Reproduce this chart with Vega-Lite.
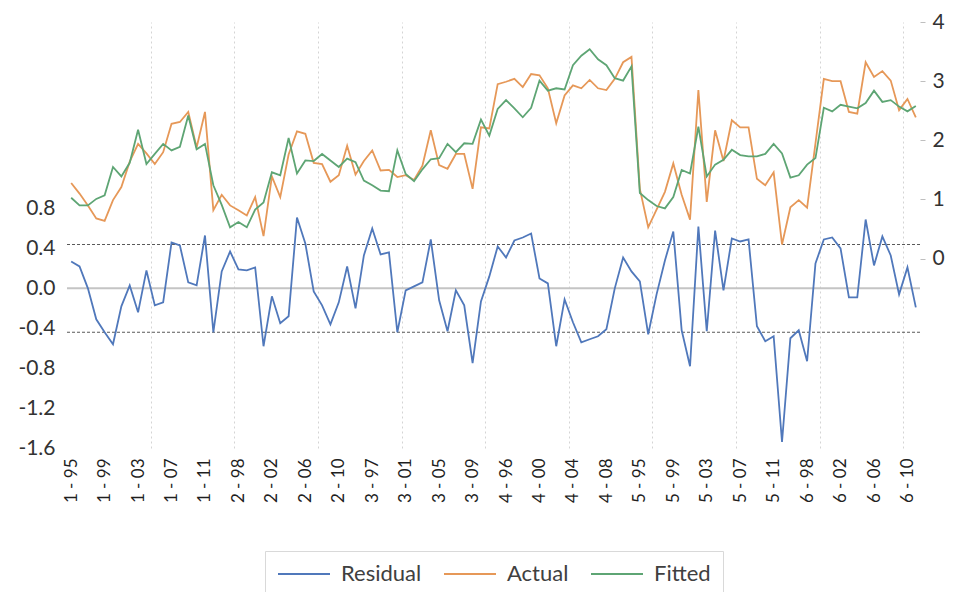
{
  "$schema": "https://vega.github.io/schema/vega-lite/v6.json",
  "width": 853,
  "height": 426,
  "autosize": {"type": "none"},
  "padding": {"left": 67, "top": 22, "right": 38, "bottom": 144},
  "background": "white",
  "config": {
    "font": "Lato",
    "view": {"stroke": null},
    "axis": {"labelFont": "Lato", "labelFlush": false, "labelOverlap": false, "title": null},
    "legend": {
      "orient": "none",
      "legendX": 198,
      "legendY": 529,
      "direction": "horizontal",
      "symbolType": "M-2,0H8.4",
      "symbolSize": 100,
      "symbolStrokeWidth": 2,
      "labelFont": "Lato",
      "labelFontSize": 22,
      "labelColor": "#404040",
      "labelOffset": 42,
      "columnPadding": 18,
      "padding": 12,
      "strokeColor": "#d9d9d9"
    }
  },
  "datasets": {
    "fit": [
      {"i": 0, "obs": "1 - 95", "Residual": 0.27, "Actual": 1.28, "Fitted": 1.03},
      {"i": 1, "obs": "1 - 96", "Residual": 0.22, "Actual": 1.10, "Fitted": 0.90},
      {"i": 2, "obs": "1 - 97", "Residual": 0.00, "Actual": 0.90, "Fitted": 0.90},
      {"i": 3, "obs": "1 - 98", "Residual": -0.31, "Actual": 0.68, "Fitted": 1.01},
      {"i": 4, "obs": "1 - 99", "Residual": -0.44, "Actual": 0.64, "Fitted": 1.07},
      {"i": 5, "obs": "1 - 00", "Residual": -0.56, "Actual": 0.99, "Fitted": 1.55},
      {"i": 6, "obs": "1 - 01", "Residual": -0.18, "Actual": 1.21, "Fitted": 1.39},
      {"i": 7, "obs": "1 - 02", "Residual": 0.03, "Actual": 1.64, "Fitted": 1.62},
      {"i": 8, "obs": "1 - 03", "Residual": -0.24, "Actual": 1.94, "Fitted": 2.18},
      {"i": 9, "obs": "1 - 04", "Residual": 0.18, "Actual": 1.78, "Fitted": 1.60},
      {"i": 10, "obs": "1 - 05", "Residual": -0.17, "Actual": 1.60, "Fitted": 1.77},
      {"i": 11, "obs": "1 - 06", "Residual": -0.14, "Actual": 1.80, "Fitted": 1.94},
      {"i": 12, "obs": "1 - 07", "Residual": 0.46, "Actual": 2.28, "Fitted": 1.83},
      {"i": 13, "obs": "1 - 08", "Residual": 0.43, "Actual": 2.31, "Fitted": 1.89},
      {"i": 14, "obs": "1 - 09", "Residual": 0.06, "Actual": 2.48, "Fitted": 2.42},
      {"i": 15, "obs": "1 - 10", "Residual": 0.03, "Actual": 1.88, "Fitted": 1.85},
      {"i": 16, "obs": "1 - 11", "Residual": 0.53, "Actual": 2.48, "Fitted": 1.94},
      {"i": 17, "obs": "2 - 95", "Residual": -0.44, "Actual": 0.82, "Fitted": 1.24},
      {"i": 18, "obs": "2 - 96", "Residual": 0.17, "Actual": 1.08, "Fitted": 0.91},
      {"i": 19, "obs": "2 - 97", "Residual": 0.37, "Actual": 0.90, "Fitted": 0.53},
      {"i": 20, "obs": "2 - 98", "Residual": 0.19, "Actual": 0.82, "Fitted": 0.62},
      {"i": 21, "obs": "2 - 99", "Residual": 0.18, "Actual": 0.73, "Fitted": 0.53},
      {"i": 22, "obs": "2 - 00", "Residual": 0.21, "Actual": 1.04, "Fitted": 0.83},
      {"i": 23, "obs": "2 - 01", "Residual": -0.58, "Actual": 0.38, "Fitted": 0.95},
      {"i": 24, "obs": "2 - 02", "Residual": -0.08, "Actual": 1.39, "Fitted": 1.46},
      {"i": 25, "obs": "2 - 03", "Residual": -0.35, "Actual": 1.04, "Fitted": 1.41},
      {"i": 26, "obs": "2 - 04", "Residual": -0.28, "Actual": 1.76, "Fitted": 2.04},
      {"i": 27, "obs": "2 - 05", "Residual": 0.71, "Actual": 2.15, "Fitted": 1.44},
      {"i": 28, "obs": "2 - 06", "Residual": 0.45, "Actual": 2.11, "Fitted": 1.66},
      {"i": 29, "obs": "2 - 07", "Residual": -0.03, "Actual": 1.62, "Fitted": 1.65},
      {"i": 30, "obs": "2 - 08", "Residual": -0.17, "Actual": 1.60, "Fitted": 1.77},
      {"i": 31, "obs": "2 - 09", "Residual": -0.36, "Actual": 1.30, "Fitted": 1.66},
      {"i": 32, "obs": "2 - 10", "Residual": -0.14, "Actual": 1.41, "Fitted": 1.55},
      {"i": 33, "obs": "2 - 11", "Residual": 0.22, "Actual": 1.91, "Fitted": 1.69},
      {"i": 34, "obs": "3 - 95", "Residual": -0.20, "Actual": 1.42, "Fitted": 1.63},
      {"i": 35, "obs": "3 - 96", "Residual": 0.33, "Actual": 1.65, "Fitted": 1.32},
      {"i": 36, "obs": "3 - 97", "Residual": 0.60, "Actual": 1.83, "Fitted": 1.24},
      {"i": 37, "obs": "3 - 98", "Residual": 0.34, "Actual": 1.49, "Fitted": 1.15},
      {"i": 38, "obs": "3 - 99", "Residual": 0.36, "Actual": 1.50, "Fitted": 1.14},
      {"i": 39, "obs": "3 - 00", "Residual": -0.44, "Actual": 1.38, "Fitted": 1.83},
      {"i": 40, "obs": "3 - 01", "Residual": -0.02, "Actual": 1.41, "Fitted": 1.43},
      {"i": 41, "obs": "3 - 02", "Residual": 0.02, "Actual": 1.33, "Fitted": 1.31},
      {"i": 42, "obs": "3 - 03", "Residual": 0.06, "Actual": 1.57, "Fitted": 1.51},
      {"i": 43, "obs": "3 - 04", "Residual": 0.49, "Actual": 2.17, "Fitted": 1.68},
      {"i": 44, "obs": "3 - 05", "Residual": -0.12, "Actual": 1.58, "Fitted": 1.70},
      {"i": 45, "obs": "3 - 06", "Residual": -0.43, "Actual": 1.52, "Fitted": 1.94},
      {"i": 46, "obs": "3 - 07", "Residual": -0.02, "Actual": 1.77, "Fitted": 1.80},
      {"i": 47, "obs": "3 - 08", "Residual": -0.17, "Actual": 1.77, "Fitted": 1.95},
      {"i": 48, "obs": "3 - 09", "Residual": -0.75, "Actual": 1.18, "Fitted": 1.94},
      {"i": 49, "obs": "3 - 10", "Residual": -0.13, "Actual": 2.22, "Fitted": 2.35},
      {"i": 50, "obs": "3 - 11", "Residual": 0.12, "Actual": 2.20, "Fitted": 2.08},
      {"i": 51, "obs": "4 - 95", "Residual": 0.42, "Actual": 2.95, "Fitted": 2.53},
      {"i": 52, "obs": "4 - 96", "Residual": 0.31, "Actual": 2.99, "Fitted": 2.68},
      {"i": 53, "obs": "4 - 97", "Residual": 0.48, "Actual": 3.04, "Fitted": 2.54},
      {"i": 54, "obs": "4 - 98", "Residual": 0.51, "Actual": 2.90, "Fitted": 2.39},
      {"i": 55, "obs": "4 - 99", "Residual": 0.55, "Actual": 3.12, "Fitted": 2.55},
      {"i": 56, "obs": "4 - 00", "Residual": 0.10, "Actual": 3.10, "Fitted": 3.01},
      {"i": 57, "obs": "4 - 01", "Residual": 0.05, "Actual": 2.88, "Fitted": 2.84},
      {"i": 58, "obs": "4 - 02", "Residual": -0.58, "Actual": 2.29, "Fitted": 2.88},
      {"i": 59, "obs": "4 - 03", "Residual": -0.11, "Actual": 2.76, "Fitted": 2.86},
      {"i": 60, "obs": "4 - 04", "Residual": -0.34, "Actual": 2.93, "Fitted": 3.27},
      {"i": 61, "obs": "4 - 05", "Residual": -0.54, "Actual": 2.88, "Fitted": 3.43},
      {"i": 62, "obs": "4 - 06", "Residual": -0.51, "Actual": 3.02, "Fitted": 3.54},
      {"i": 63, "obs": "4 - 07", "Residual": -0.48, "Actual": 2.88, "Fitted": 3.37},
      {"i": 64, "obs": "4 - 08", "Residual": -0.41, "Actual": 2.85, "Fitted": 3.27},
      {"i": 65, "obs": "4 - 09", "Residual": 0.00, "Actual": 3.04, "Fitted": 3.05},
      {"i": 66, "obs": "4 - 10", "Residual": 0.31, "Actual": 3.32, "Fitted": 3.01},
      {"i": 67, "obs": "4 - 11", "Residual": 0.17, "Actual": 3.41, "Fitted": 3.25},
      {"i": 68, "obs": "5 - 95", "Residual": 0.07, "Actual": 1.18, "Fitted": 1.11},
      {"i": 69, "obs": "5 - 96", "Residual": -0.46, "Actual": 0.53, "Fitted": 0.99},
      {"i": 70, "obs": "5 - 97", "Residual": -0.06, "Actual": 0.83, "Fitted": 0.89},
      {"i": 71, "obs": "5 - 98", "Residual": 0.28, "Actual": 1.13, "Fitted": 0.85},
      {"i": 72, "obs": "5 - 99", "Residual": 0.57, "Actual": 1.61, "Fitted": 1.04},
      {"i": 73, "obs": "5 - 00", "Residual": -0.42, "Actual": 1.08, "Fitted": 1.50},
      {"i": 74, "obs": "5 - 01", "Residual": -0.78, "Actual": 0.66, "Fitted": 1.44},
      {"i": 75, "obs": "5 - 02", "Residual": 0.62, "Actual": 2.85, "Fitted": 2.23},
      {"i": 76, "obs": "5 - 03", "Residual": -0.43, "Actual": 0.96, "Fitted": 1.39},
      {"i": 77, "obs": "5 - 04", "Residual": 0.58, "Actual": 2.17, "Fitted": 1.59},
      {"i": 78, "obs": "5 - 05", "Residual": -0.02, "Actual": 1.65, "Fitted": 1.67},
      {"i": 79, "obs": "5 - 06", "Residual": 0.50, "Actual": 2.34, "Fitted": 1.84},
      {"i": 80, "obs": "5 - 07", "Residual": 0.47, "Actual": 2.22, "Fitted": 1.75},
      {"i": 81, "obs": "5 - 08", "Residual": 0.49, "Actual": 2.22, "Fitted": 1.73},
      {"i": 82, "obs": "5 - 09", "Residual": -0.38, "Actual": 1.35, "Fitted": 1.73},
      {"i": 83, "obs": "5 - 10", "Residual": -0.53, "Actual": 1.24, "Fitted": 1.77},
      {"i": 84, "obs": "5 - 11", "Residual": -0.48, "Actual": 1.46, "Fitted": 1.94},
      {"i": 85, "obs": "6 - 95", "Residual": -1.54, "Actual": 0.24, "Fitted": 1.78},
      {"i": 86, "obs": "6 - 96", "Residual": -0.50, "Actual": 0.87, "Fitted": 1.37},
      {"i": 87, "obs": "6 - 97", "Residual": -0.42, "Actual": 0.99, "Fitted": 1.41},
      {"i": 88, "obs": "6 - 98", "Residual": -0.73, "Actual": 0.86, "Fitted": 1.59},
      {"i": 89, "obs": "6 - 99", "Residual": 0.25, "Actual": 1.95, "Fitted": 1.70},
      {"i": 90, "obs": "6 - 00", "Residual": 0.49, "Actual": 3.04, "Fitted": 2.55},
      {"i": 91, "obs": "6 - 01", "Residual": 0.51, "Actual": 3.00, "Fitted": 2.49},
      {"i": 92, "obs": "6 - 02", "Residual": 0.40, "Actual": 3.00, "Fitted": 2.60},
      {"i": 93, "obs": "6 - 03", "Residual": -0.09, "Actual": 2.48, "Fitted": 2.57},
      {"i": 94, "obs": "6 - 04", "Residual": -0.09, "Actual": 2.45, "Fitted": 2.54},
      {"i": 95, "obs": "6 - 05", "Residual": 0.69, "Actual": 3.32, "Fitted": 2.63},
      {"i": 96, "obs": "6 - 06", "Residual": 0.23, "Actual": 3.07, "Fitted": 2.84},
      {"i": 97, "obs": "6 - 07", "Residual": 0.52, "Actual": 3.17, "Fitted": 2.65},
      {"i": 98, "obs": "6 - 08", "Residual": 0.33, "Actual": 3.01, "Fitted": 2.68},
      {"i": 99, "obs": "6 - 09", "Residual": -0.06, "Actual": 2.51, "Fitted": 2.57},
      {"i": 100, "obs": "6 - 10", "Residual": 0.21, "Actual": 2.70, "Fitted": 2.49},
      {"i": 101, "obs": "6 - 11", "Residual": -0.19, "Actual": 2.39, "Fitted": 2.58}
    ],
    "zeroline": [{"v": 0}],
    "seband": [{"v": 0.44}, {"v": -0.44}]
  },
  "layer": [
    {
      "data": {"name": "zeroline"},
      "mark": {"type": "rule", "color": "#c4c4c4", "strokeWidth": 2},
      "encoding": {
        "y": {"field": "v", "type": "quantitative", "scale": {"domain": [-1.6, 2.67], "nice": false, "zero": false}, "axis": null}
      }
    },
    {
      "data": {"name": "seband"},
      "mark": {"type": "rule", "color": "#5a5a5a", "strokeWidth": 1.2, "strokeDash": [3, 2]},
      "encoding": {
        "y": {"field": "v", "type": "quantitative", "scale": {"domain": [-1.6, 2.67], "nice": false, "zero": false}, "axis": null}
      }
    },
    {
      "data": {"name": "fit"},
      "transform": [{"fold": ["Residual"], "as": ["series", "value"]}],
      "mark": {"type": "line", "strokeWidth": 1.8, "interpolate": "linear"},
      "encoding": {
        "x": {
          "field": "i", "type": "quantitative",
          "scale": {"domain": [-0.5, 101.5], "nice": false, "zero": false},
          "axis": {
            "values": [0, 4, 8, 12, 16, 20, 24, 28, 32, 36, 40, 44, 48, 52, 56, 60, 64, 68, 72, 76, 80, 84, 88, 92, 96, 100],
            "labelExpr": "(floor(datum.value / 17) + 1) + ' - ' + (((95 + datum.value % 17) % 100) < 10 ? '0' : '') + ((95 + datum.value % 17) % 100)",
            "labelAngle": 270,
            "labelFontSize": 17,
            "labelColor": "#1f1f1f",
            "labelPadding": 10,
            "ticks": false,
            "domain": false,
            "grid": false
          }
        },
        "y": {
          "field": "value", "type": "quantitative",
          "scale": {"domain": [-1.6, 2.67], "nice": false, "zero": false},
          "axis": {
            "orient": "left",
            "values": [-1.6, -1.2, -0.8, -0.4, 0, 0.4, 0.8],
            "labelExpr": "replace(format(datum.value, '.1f'), '\u2212', '-')",
            "labelFontSize": 21,
            "labelColor": "#333333",
            "labelPadding": 12,
            "ticks": false,
            "domain": false,
            "grid": false
          }
        },
        "color": {
          "field": "series", "type": "nominal",
          "scale": {"domain": ["Residual", "Actual", "Fitted"], "range": ["#5078bb", "#e69858", "#5ea574"]},
          "legend": {"title": null}
        }
      }
    },
    {
      "data": {"name": "fit"},
      "transform": [{"fold": ["Actual", "Fitted"], "as": ["series", "value"]}],
      "mark": {"type": "line", "strokeWidth": 1.8, "interpolate": "linear"},
      "encoding": {
        "x": {
          "field": "i", "type": "quantitative",
          "scale": {"domain": [-0.5, 101.5], "nice": false, "zero": false},
          "axis": {
            "values": [9.5, 19.5, 29.5, 39.5, 49.5, 59.5, 69.5, 79.5, 89.5, 99.5],
            "labels": false,
            "ticks": false,
            "domain": false,
            "grid": true,
            "gridColor": "#d4d4d4",
            "gridDash": [2, 3],
            "gridWidth": 1
          }
        },
        "y": {
          "field": "value", "type": "quantitative",
          "scale": {"domain": [-3.2, 4], "nice": false, "zero": false},
          "axis": {
            "orient": "right",
            "values": [0, 1, 2, 3, 4],
            "format": "d",
            "labelFontSize": 21,
            "labelColor": "#333333",
            "labelPadding": 7,
            "ticks": true,
            "tickSize": 5,
            "tickColor": "#bfbfbf",
            "domain": false,
            "grid": false
          }
        },
        "color": {"field": "series", "type": "nominal", "legend": {"title": null}},
        "order": {"field": "series", "type": "nominal"}
      }
    }
  ],
  "resolve": {"scale": {"y": "independent"}, "axis": {"x": "independent", "y": "independent"}}
}
